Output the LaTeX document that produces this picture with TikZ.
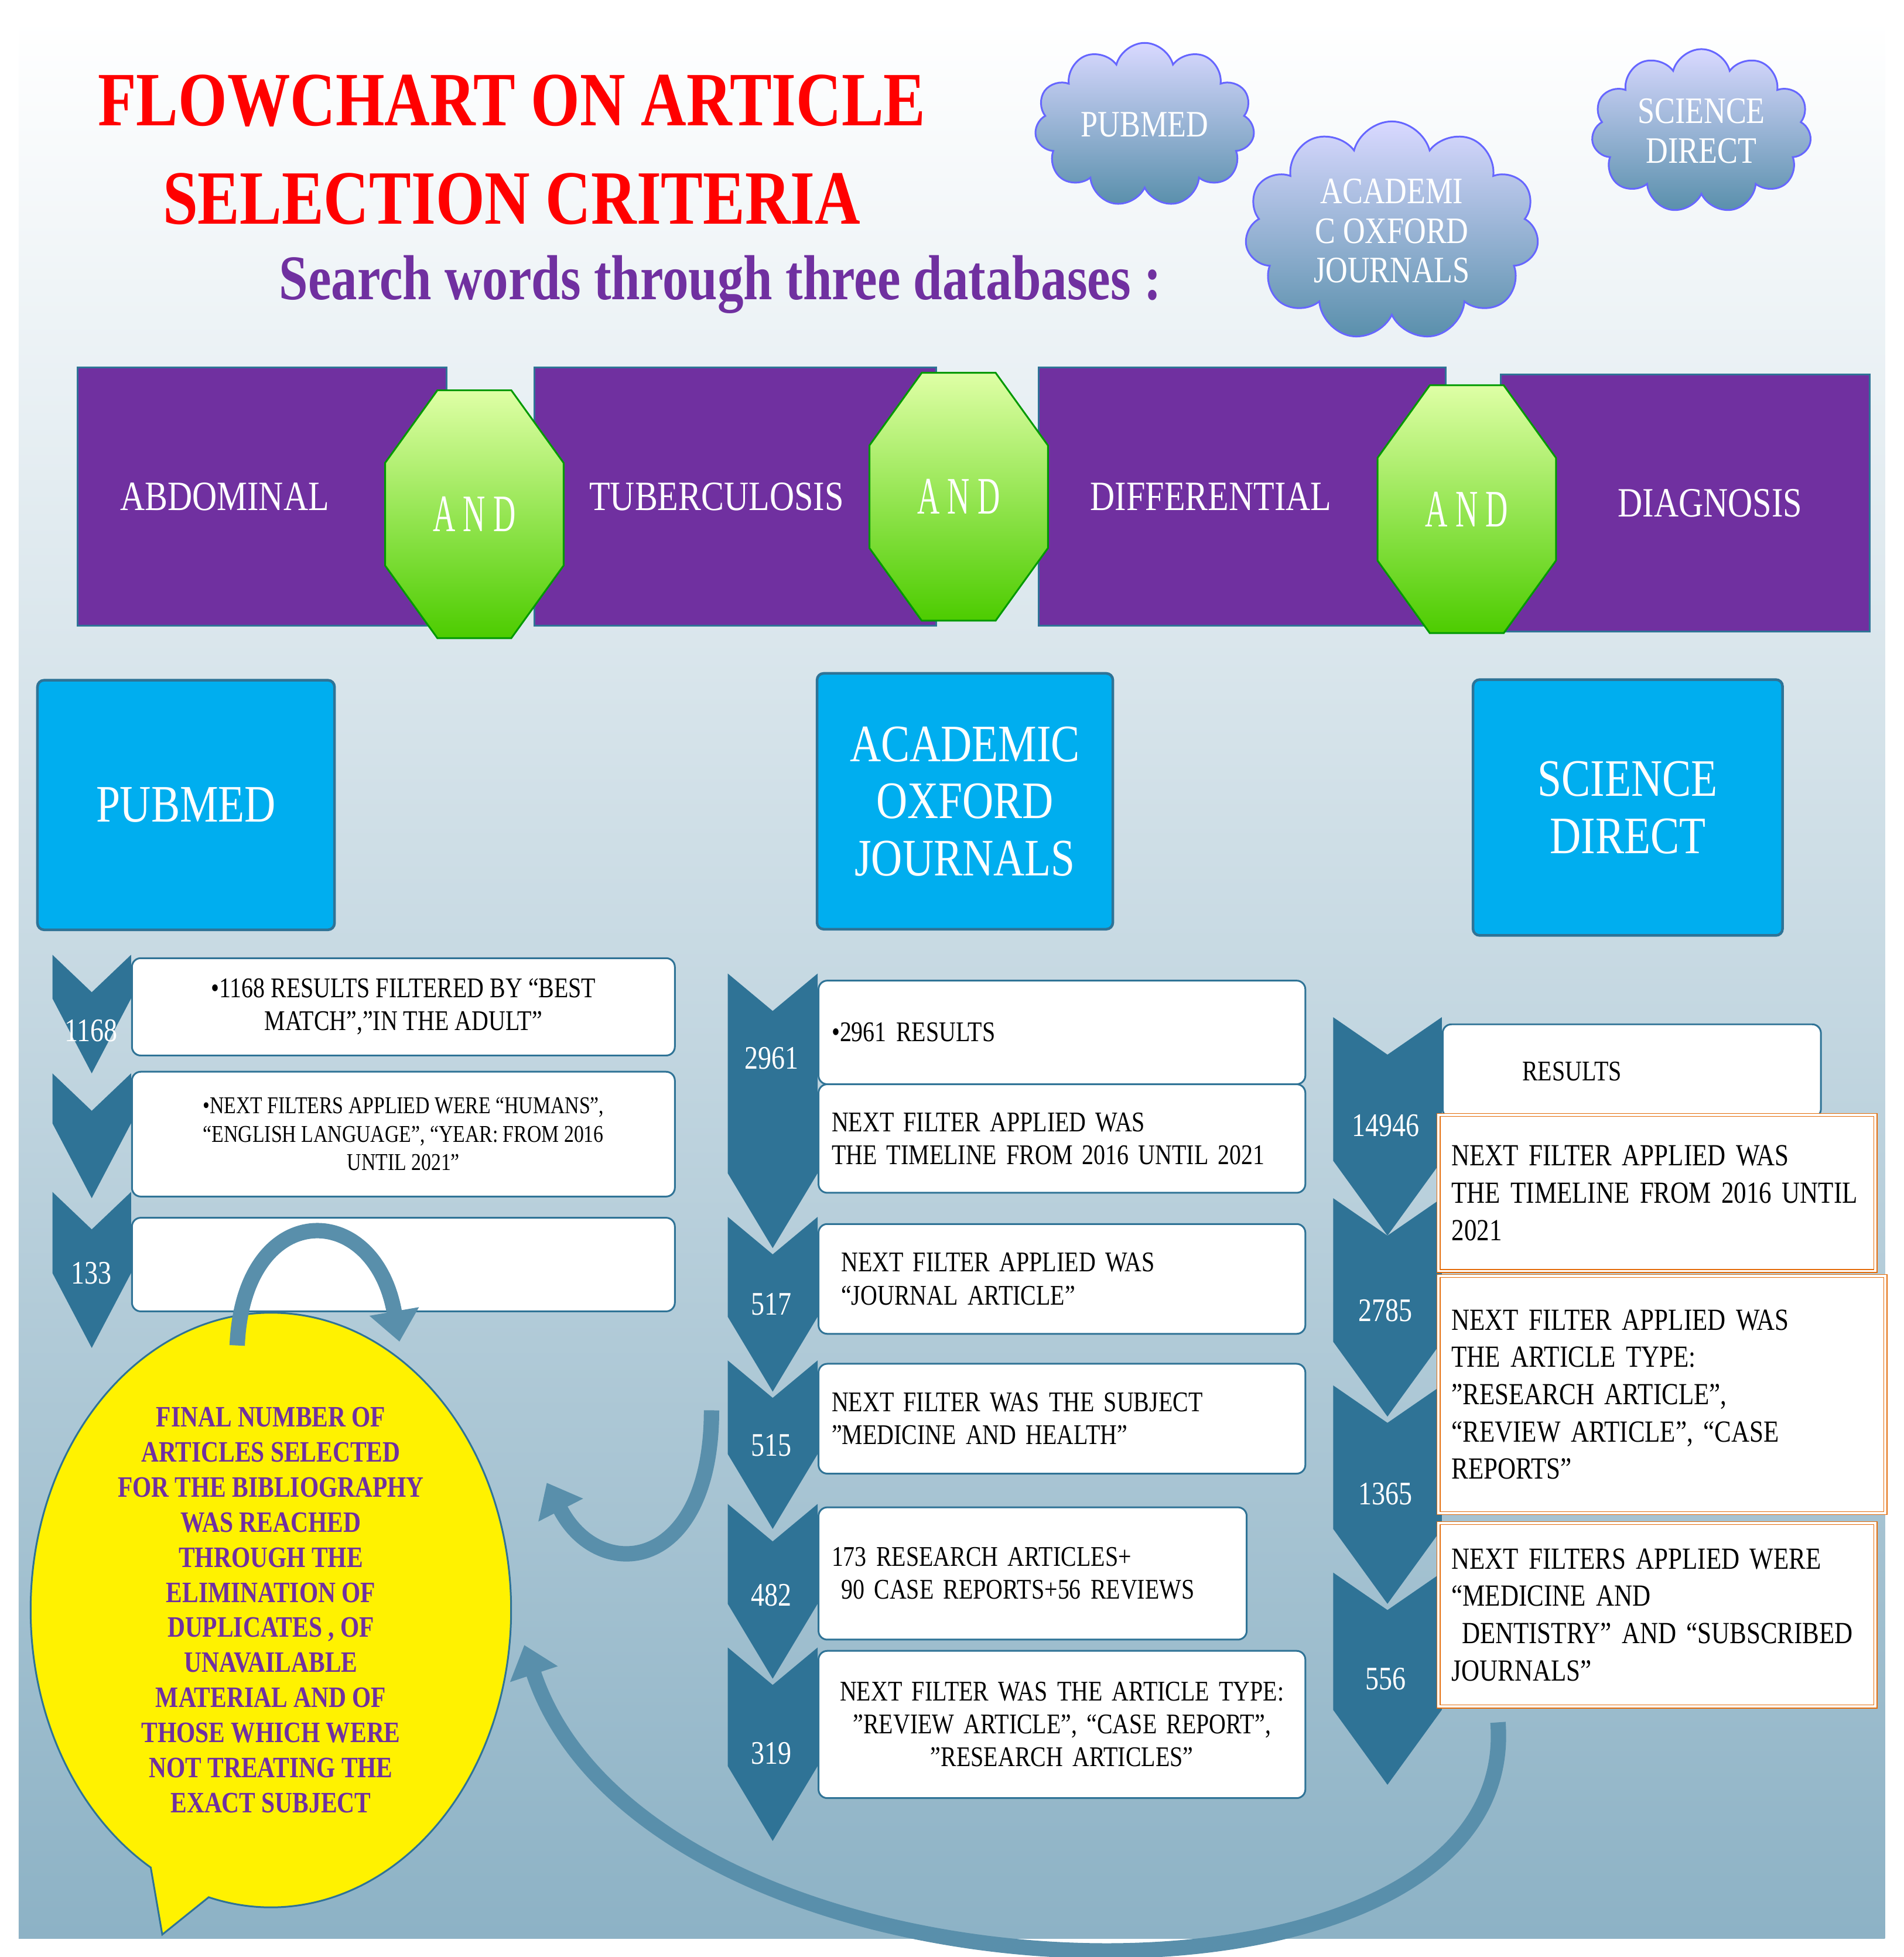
\documentclass[tikz,border=0pt]{standalone}
\usepackage{fontspec}
\setmainfont{Liberation Serif}[FakeStretch=0.82]
\usepackage{tikz}
\usetikzlibrary{arrows.meta, shapes.geometric, shapes.symbols, shapes.callouts, positioning}
\definecolor{purp}{HTML}{7030A0}
\definecolor{sky}{HTML}{00AEEF}
\definecolor{chev}{HTML}{2F7396}
\definecolor{org}{HTML}{E46C0A}
\tikzstyle{term}=[rectangle, draw=chev, fill=purp, thick, text=white, font=\fontsize{19}{21}\selectfont]
\tikzstyle{andgate}=[regular polygon, regular polygon sides=8, minimum size=4.3cm, xscale=0.72, transform shape, draw=green!60!black, thick, top color=green!15!lime!35, bottom color=green!50!lime!80!black, text=white, font=\fontsize{24}{26}\selectfont]
\tikzstyle{cloudy}=[cloud, cloud puffs=11, aspect=1.6, draw=blue!60, thick, top color=blue!15, bottom color=chev!80, text=white, align=center, font=\fontsize{17}{18}\selectfont]
\tikzstyle{scroll}=[rectangle, rounded corners=3pt, draw=chev, very thick, fill=sky, text=white, align=center, font=\fontsize{24}{26}\selectfont]
\tikzstyle{filterbox}=[rectangle, rounded corners=4pt, draw=chev, thick, fill=white, align=left, font=\fontsize{13}{15}\selectfont, inner sep=6pt, anchor=north west]
\tikzstyle{ofilterbox}=[rectangle, draw=org, double=white, double distance=1pt, fill=white, align=left, font=\fontsize{14}{17}\selectfont, inner sep=6pt, anchor=north west]
\tikzstyle{count}=[text=white, font=\fontsize{15}{16}\selectfont]
\tikzstyle{curvearrow}=[line width=7pt, draw=chev!80, -{Triangle[length=14pt, width=22pt]}]
% chevron: #1 left x, #2 right x, #3 top y, #4 tip y
\newcommand{\chevron}[4]{\fill[chev] (#1,#3) -- ({(#1+#2)/2},#3+30) -- (#2,#3) -- (#2,#4-60) -- ({(#1+#2)/2},#4) -- (#1,#4-60) -- cycle;}
\begin{document}
\begin{tikzpicture}[x=0.02cm, y=-0.02cm]
    \useasboundingbox (0,0) rectangle (1525,1568);
    \shade[top color=white, middle color=chev!10!white, bottom color=chev!55!white] (15,15) rectangle (1510,1553);

    % Title:
    \node[text=red, font=\fontsize{35}{45}\selectfont\bfseries, align=center] (title) at (410,120) {FLOWCHART ON ARTICLE\\SELECTION CRITERIA};
    \node[text=purp, font=\fontsize{29}{34}\selectfont\bfseries] (search) at (577,228) {Search words through three databases :};

    % Clouds:
    \node[cloudy] (c1) at (917,100) {PUBMED};
    \node[cloudy] (c2) at (1115,185) {ACADEMI\\C OXFORD\\JOURNALS};
    \node[cloudy] (c3) at (1363,105) {SCIENCE\\DIRECT};

    % Search terms:
    \node[term, minimum width=5.92cm, minimum height=4.14cm] (t1) at (210,398) {ABDOMINAL\hspace*{1.2cm}};
    \node[term, minimum width=6.44cm, minimum height=4.14cm] (t2) at (589,398) {\hspace*{0.6cm}TUBERCULOSIS\hspace*{1.2cm}};
    \node[term, minimum width=6.52cm, minimum height=4.14cm] (t3) at (995,398) {DIFFERENTIAL\hspace*{1cm}};
    \node[term, minimum width=5.92cm, minimum height=4.12cm] (t4) at (1350,403) {\hspace*{0.8cm}DIAGNOSIS};
    \node[andgate] (a1) at (380,412) {A N D};
    \node[andgate] (a2) at (768,398) {A N D};
    \node[andgate] (a3) at (1175,408) {A N D};

    % Databases:
    \node[scroll, minimum width=4.76cm, minimum height=4cm] (s1) at (149,645) {PUBMED};
    \node[scroll, minimum width=4.74cm, minimum height=4.1cm] (s2) at (773,642) {ACADEMIC\\OXFORD\\JOURNALS};
    \node[scroll, minimum width=4.96cm, minimum height=4.1cm] (s3) at (1304,647) {SCIENCE\\DIRECT};

    % Pubmed filters:
    \chevron{42}{105}{765}{860}
    \chevron{42}{105}{860}{960}
    \chevron{42}{105}{955}{1080}
    \node[count] (n11) at (73,826) {1168};
    \node[count] (n13) at (73,1020) {133};
    \node[filterbox, minimum width=8.7cm, minimum height=1.56cm, align=center] (p1) at (105,767) {•1168 RESULTS FILTERED BY ``BEST\\MATCH'',''IN THE ADULT''};
    \node[filterbox, minimum width=8.7cm, minimum height=2cm, align=center, font=\fontsize{11}{13}\selectfont] (p2) at (105,858) {•NEXT FILTERS APPLIED WERE ``HUMANS'',\\``ENGLISH LANGUAGE'', ``YEAR: FROM 2016\\UNTIL 2021''};
    \node[filterbox, minimum width=8.7cm, minimum height=1.5cm] (p3) at (105,975) {};

    % Oxford filters:
    \chevron{583}{655}{780}{1000}
    \chevron{583}{655}{975}{1115}
    \chevron{583}{655}{1090}{1225}
    \chevron{583}{655}{1205}{1345}
    \chevron{583}{655}{1320}{1475}
    \node[count] (n21) at (618,848) {2961};
    \node[count] (n22) at (618,1045) {517};
    \node[count] (n23) at (618,1158) {515};
    \node[count] (n24) at (618,1278) {482};
    \node[count] (n25) at (618,1405) {319};
    \node[filterbox, text width=7.38cm, minimum height=1.66cm] (o1) at (655,785) {•2961 RESULTS};
    \node[filterbox, text width=7.38cm, minimum height=1.74cm] (o2) at (655,868) {NEXT FILTER APPLIED WAS\\THE TIMELINE FROM 2016 UNTIL 2021};
    \node[filterbox, text width=7.38cm, minimum height=1.76cm] (o3) at (655,980) {\ NEXT FILTER APPLIED WAS\\\ ``JOURNAL ARTICLE''};
    \node[filterbox, text width=7.38cm, minimum height=1.76cm] (o4) at (655,1092) {NEXT FILTER WAS THE SUBJECT\\''MEDICINE AND HEALTH''};
    \node[filterbox, text width=6.44cm, minimum height=2.12cm] (o5) at (655,1207) {173 RESEARCH ARTICLES+\\\ 90 CASE REPORTS+56 REVIEWS};
    \node[filterbox, text width=7.38cm, minimum height=2.36cm, align=center] (o6) at (655,1322) {NEXT FILTER WAS THE ARTICLE TYPE:\\''REVIEW ARTICLE'', ``CASE REPORT'',\\''RESEARCH ARTICLES''};

    % Science Direct filters:
    \chevron{1068}{1155}{815}{990}
    \chevron{1068}{1155}{960}{1135}
    \chevron{1068}{1155}{1110}{1285}
    \chevron{1068}{1155}{1260}{1430}
    \node[count] (n31) at (1110,902) {14946};
    \node[count] (n32) at (1110,1050) {2785};
    \node[count] (n33) at (1110,1197) {1365};
    \node[count] (n34) at (1110,1345) {556};
    \node[filterbox, text width=5.64cm, minimum height=1.5cm] (d1) at (1155,820) {\ \ \ \ \ \ \ RESULTS\\[10pt]};
    \node[ofilterbox, text width=6.58cm, minimum height=2.5cm] (d2) at (1152,893) {NEXT FILTER APPLIED WAS\\THE TIMELINE FROM 2016 UNTIL\\2021};
    \node[ofilterbox, text width=6.74cm, minimum height=3.8cm] (d3) at (1152,1022) {NEXT FILTER APPLIED WAS\\THE ARTICLE TYPE:\\''RESEARCH ARTICLE'',\\``REVIEW ARTICLE'', ``CASE\\REPORTS''};
    \node[ofilterbox, text width=6.58cm, minimum height=2.94cm] (d4) at (1152,1220) {NEXT FILTERS APPLIED WERE\\``MEDICINE AND\\\ DENTISTRY'' AND ``SUBSCRIBED\\JOURNALS''};

    % Final bubble:
    \node[ellipse callout, callout absolute pointer={(130,1550)}, draw=chev, thick, fill=yellow, minimum width=7.7cm, minimum height=7.9cm, text=purp, align=center, font=\fontsize{13.5}{16}\selectfont\bfseries] (final) at (217,1290) {FINAL NUMBER OF\\ARTICLES SELECTED\\FOR THE BIBLIOGRAPHY\\WAS REACHED\\THROUGH THE\\ELIMINATION OF\\DUPLICATES , OF\\UNAVAILABLE\\MATERIAL AND OF\\THOSE WHICH WERE\\NOT TREATING THE\\EXACT SUBJECT};

    % Curved arrows:
    \coordinate (r1) at (190,1078);
    \coordinate (r2) at (320,1075);
    \coordinate (r3) at (570,1130);
    \coordinate (r4) at (438,1188);
    \coordinate (r5) at (1200,1380);
    \coordinate (r6) at (420,1318);
    \draw[curvearrow] (r1) .. controls (195,960) and (300,960) .. (r2);
    \draw[curvearrow] (r3) .. controls (570,1260) and (480,1270) .. (r4);
    \draw[curvearrow] (r5) .. controls (1220,1640) and (520,1620) .. (r6);
\end{tikzpicture}
\end{document}
